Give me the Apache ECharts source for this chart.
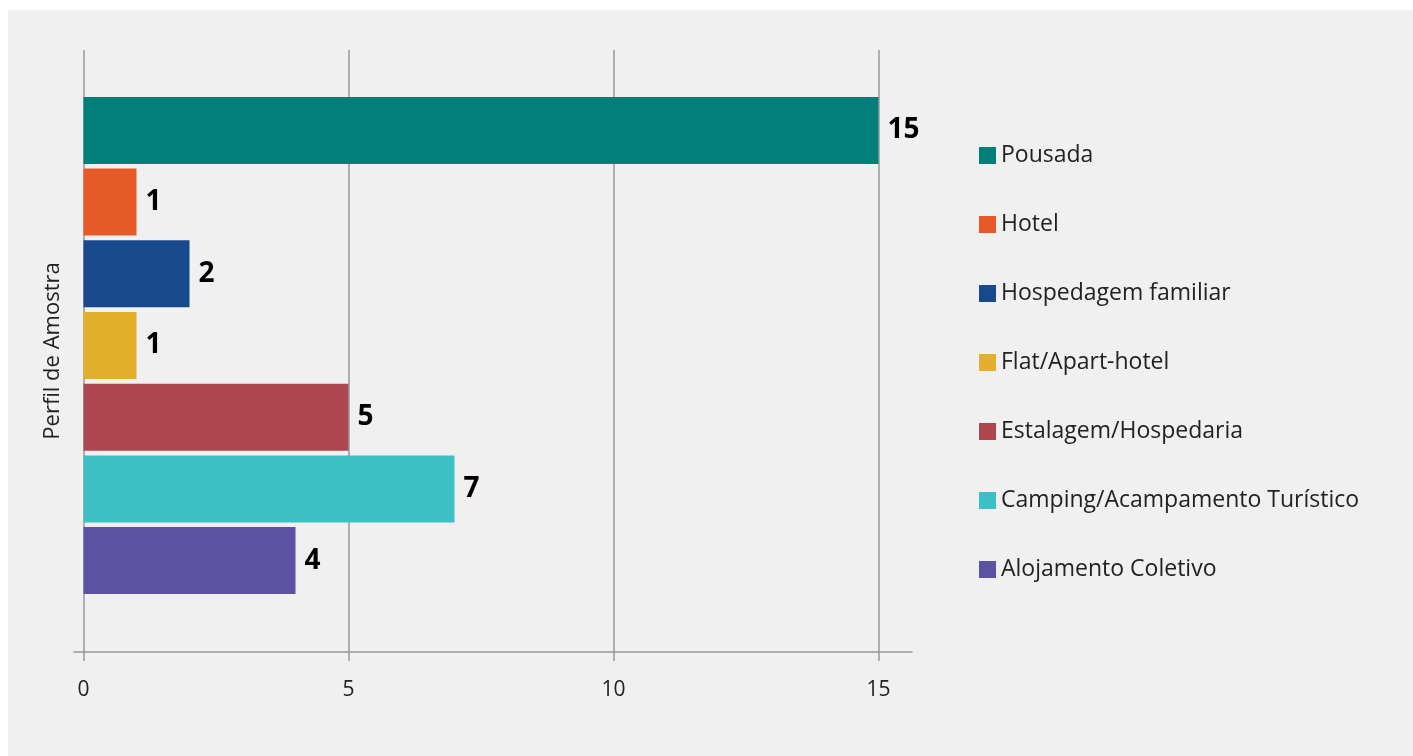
<!DOCTYPE html>
<html>
<head>
<meta charset="utf-8">
<script src="https://cdn.jsdelivr.net/npm/echarts@6/dist/echarts.min.js"></script>
<style>
html,body{margin:0;padding:0;background:#fff;width:1413px;height:756px;overflow:hidden;}
#bg{position:absolute;left:8px;top:10px;right:0;bottom:0;background:#f0f0f0;}
#chart{position:absolute;left:0;top:0;width:1413px;height:756px;}
</style>
</head>
<body>
<div id="bg"></div>
<div id="chart"></div>
<script>
const categories = ['Perfil de Amostra'];
const seriesNames = ['Pousada', 'Hotel', 'Hospedagem familiar', 'Flat/Apart-hotel', 'Estalagem/Hospedaria', 'Camping/Acampamento Turístico', 'Alojamento Coletivo'];
const values = [15, 1, 2, 1, 5, 7, 4];
const colors = ['#027f79', '#e55a26', '#17498c', '#e2b02b', '#ad464e', '#3cc0c5', '#5c52a2'];
const xMin = 0, xMax = 15, xInterval = 5;

const font = "'Open Sans', 'Noto Sans', sans-serif";
const chart = echarts.init(document.getElementById('chart'), null, {renderer: 'canvas'});

const series = seriesNames.map((name, i) => ({
  name: name,
  type: 'bar',
  xAxisIndex: 2,
  yAxisIndex: 2,
  barWidth: 67,
  barGap: '7%',
  itemStyle: {color: colors[i]},
  label: {
    show: true, position: 'right', distance: 9,
    fontSize: 28, fontWeight: 'bold', color: '#000', fontFamily: font
  },
  data: [values[i]]
}));

chart.setOption({
  animation: false,
  textStyle: {fontFamily: font},
  grid: [
    {left: 74, width: 838, top: 50, height: 602},
    {left: 83.5, width: 795, top: 50, height: 602},
    {left: 83.5, width: 795, top: 39, height: 613}
  ],
  legend: {
    orient: 'vertical',
    left: 974, top: 139,
    itemWidth: 17, itemHeight: 17, itemGap: 46,
    icon: 'rect',
    textStyle: {fontSize: 23, color: '#222', fontFamily: font},
    data: seriesNames
  },
  xAxis: [
    {gridIndex: 0, type: 'value', min: 0, max: 1,
     axisLine: {show: true, lineStyle: {color: '#999', width: 1.5}},
     axisTick: {show: false}, axisLabel: {show: false}, splitLine: {show: false}},
    {gridIndex: 1, type: 'value', min: xMin, max: xMax, interval: xInterval,
     axisLine: {show: false},
     axisTick: {show: true, length: 9, lineStyle: {color: '#999', width: 1.5}},
     axisLabel: {show: true, fontSize: 21, color: '#222', margin: 28, fontFamily: font},
     splitLine: {show: true, lineStyle: {color: '#999', width: 1.5}}},
    {gridIndex: 2, type: 'value', min: xMin, max: xMax, show: false}
  ],
  yAxis: [
    {gridIndex: 0, type: 'category', data: categories, show: false},
    {gridIndex: 1, type: 'category', data: categories,
     axisLine: {show: false}, axisTick: {show: false}, axisLabel: {show: false},
     name: categories[0], nameLocation: 'middle', nameGap: 20, nameRotate: 90,
     nameTextStyle: {fontSize: 22, color: '#222', fontFamily: font}},
    {gridIndex: 2, type: 'category', data: categories, show: false, inverse: true}
  ],
  series: series
});
</script>
</body>
</html>
